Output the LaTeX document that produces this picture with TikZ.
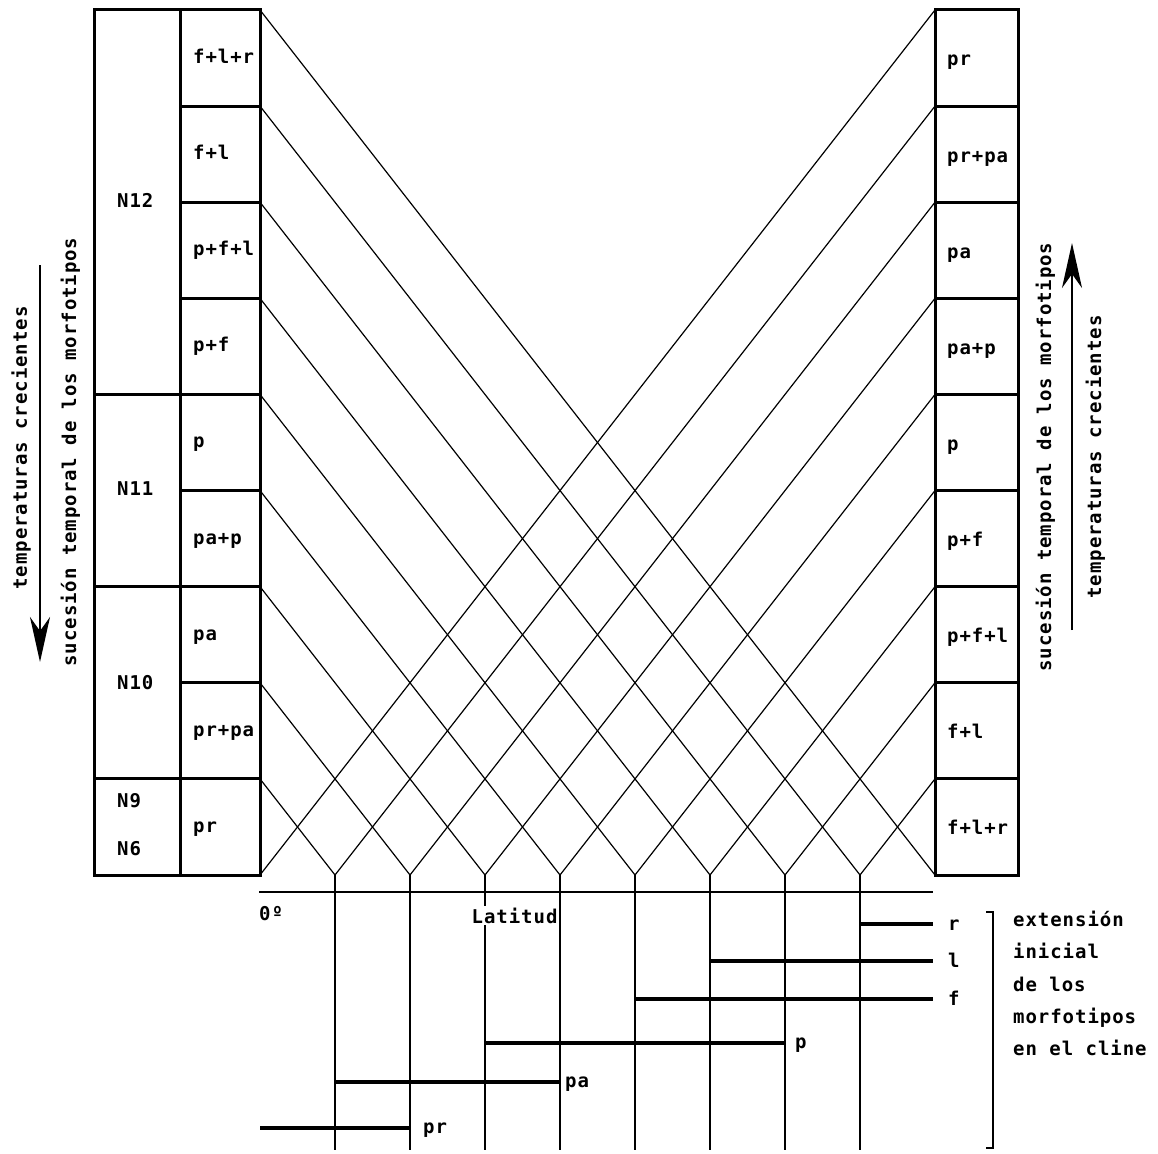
\documentclass[tikz,border=0pt]{standalone}
\usepackage{fontspec}
\setmainfont{DejaVu Sans Mono}[LetterSpace=5,UprightFont=* Bold]
\usetikzlibrary{arrows.meta}
\begin{document}
\begin{tikzpicture}[x=1pt,y=-1pt,
  cell/.style={draw, line width=3pt, inner sep=0pt, outer sep=0pt, anchor=north west},
  lab/.style={anchor=base west, inner sep=0pt, font=\fontsize{19}{21}\selectfont},
  vlab/.style={anchor=base, rotate=90, inner sep=0pt, font=\fontsize{19}{21}\selectfont},
  cross/.style={line width=1.2pt},
  vline/.style={line width=1.5pt},
  axisline/.style={line width=2.2pt},
  bar/.style={line width=4.8pt},
  tarrow/.style={line width=2.6pt, -{Stealth[length=45pt,width=20pt,inset=14pt]}},
  brk/.style={line width=2.4pt},
]
\useasboundingbox (0,0) rectangle (1158,1153);

% named coordinates
\foreach \n in {0,...,9} {
  \coordinate (L\n) at (260,{10+96.11*\n});
  \coordinate (R\n) at (935,{10+96.11*\n});
}
\foreach \k in {1,...,8} {
  \coordinate (V\k) at ({260+75*\k},875);
  \coordinate (B\k) at ({260+75*\k},1150);
}

% crossing lines and verticals
\draw[cross] (L0) -- (R9);
\draw[cross] (R0) -- (L9);
\foreach \k [evaluate=\k as \m using int(9-\k)] in {1,...,8} {
  \draw[cross] (L\m) -- (V\k) -- (R\k);
  \draw[vline] (V\k) -- (B\k);
}

% left column
\foreach \t [count=\n from 0] in {f+l+r,f+l,p+f+l,p+f,p,pa+p,pa,pr+pa,pr} {
  \node[cell, minimum width=80pt, minimum height=96.11pt] (lc\n) at (180,{10+96.11*\n}) {};
  \node[lab] (lt\n) at (193,{10+96.11*\n+53.5}) {\t};
}
\node[cell, minimum width=86pt, minimum height=384.44pt] (n12) at (94,10) {};
\node[cell, minimum width=86pt, minimum height=192.22pt] (n11) at (94,394.44) {};
\node[cell, minimum width=86pt, minimum height=192.22pt] (n10) at (94,586.67) {};
\node[cell, minimum width=86pt, minimum height=96.11pt] (n9) at (94,778.89) {};
\node[lab] (t12) at (117,207) {N12};
\node[lab] (t11) at (117,495) {N11};
\node[lab] (t10) at (117,689) {N10};
\node[lab] (t9) at (117,807) {N9};
\node[lab] (t6) at (117,855) {N6};

% right column
\foreach \t [count=\n from 0] in {pr,pr+pa,pa,pa+p,p,p+f,p+f+l,f+l,f+l+r} {
  \node[cell, minimum width=83pt, minimum height=96.11pt] (rc\n) at (935,{10+96.11*\n}) {};
  \node[lab] (rt\n) at (947,{10+96.11*\n+56}) {\t};
}

% axis
\coordinate (A0) at (259,892);
\coordinate (A1) at (933,892);
\draw[axisline] (A0) -- (A1);
\node[lab] (deg) at (259,920) {0º};
\node[lab, fill=white, inner xsep=1.5pt, inner ysep=2pt] (lat) at (470,923) {Latitud};

% bars
\coordinate (r0) at (860,924);  \coordinate (r1) at (933,924);
\coordinate (l0) at (710,961);  \coordinate (l1) at (933,961);
\coordinate (f0) at (635,999);  \coordinate (f1) at (933,999);
\coordinate (p0) at (485,1043); \coordinate (p1) at (785,1043);
\coordinate (pa0) at (335,1082); \coordinate (pa1) at (560,1082);
\coordinate (pr0) at (260,1128); \coordinate (pr1) at (410,1128);
\draw[bar] (r0) -- (r1);
\draw[bar] (l0) -- (l1);
\draw[bar] (f0) -- (f1);
\draw[bar] (p0) -- (p1);
\draw[bar] (pa0) -- (pa1);
\draw[bar] (pr0) -- (pr1);
\node[lab] (rl) at (948,930) {r};
\node[lab] (ll) at (948,967) {l};
\node[lab] (fl) at (948,1005) {f};
\node[lab] (pl) at (795,1048) {p};
\node[lab] (pal) at (565,1087) {pa};
\node[lab] (prl) at (423,1133) {pr};

% bracket
\coordinate (K1) at (986,912);
\coordinate (K2) at (993,912);
\coordinate (K3) at (993,1148);
\coordinate (K4) at (986,1148);
\draw[brk] (K1) -- (K2) -- (K3) -- (K4);
\node[lab] (e1) at (1013,926) {extensión};
\node[lab] (e2) at (1013,958) {inicial};
\node[lab] (e3) at (1013,991) {de los};
\node[lab] (e4) at (1013,1023) {morfotipos};
\node[lab] (e5) at (1013,1055) {en el cline};

% side texts and arrows
\node[vlab] (tl1) at (27,448) {temperaturas crecientes};
\node[vlab] (tl2) at (76,452) {sucesión temporal de los morfotipos};
\node[vlab] (tr1) at (1051,457) {sucesión temporal de los morfotipos};
\node[vlab] (tr2) at (1101,457) {temperaturas crecientes};
\coordinate (al0) at (40,265);
\coordinate (al1) at (40,662);
\draw[tarrow] (al0) -- (al1);
\coordinate (ar0) at (1072,630);
\coordinate (ar1) at (1072,243);
\draw[tarrow] (ar0) -- (ar1);
\end{tikzpicture}
\end{document}
